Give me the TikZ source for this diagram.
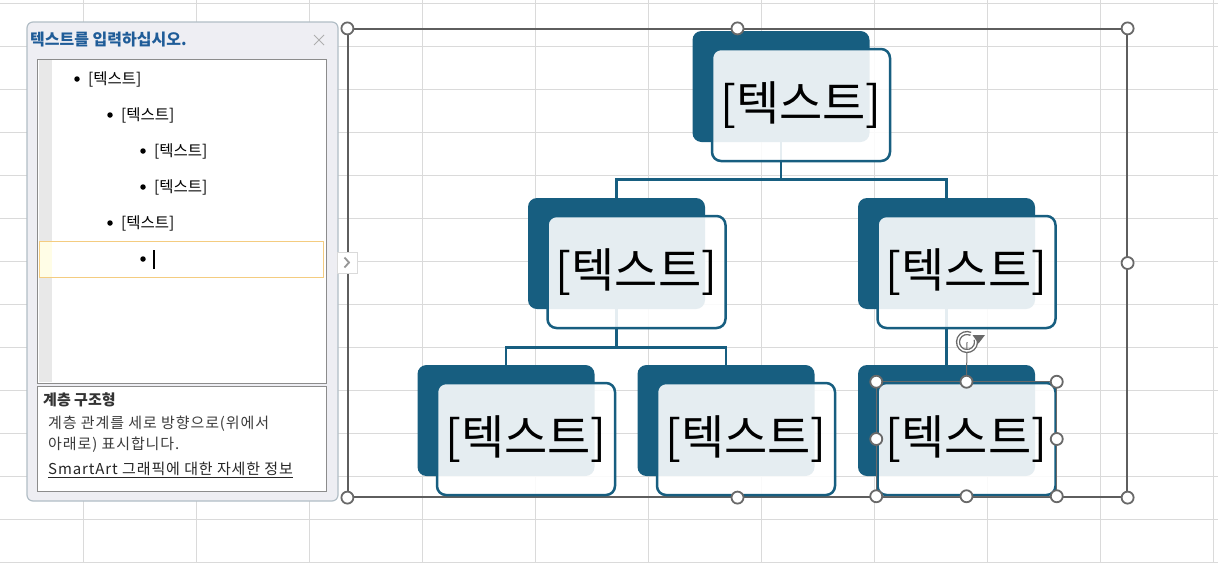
\documentclass[tikz,border=0pt]{standalone}
\usepackage{fontspec}
\setmainfont{Noto Sans CJK KR}
\usetikzlibrary{positioning}
\definecolor{smart}{RGB}{23,94,128}
\definecolor{gridgray}{RGB}{218,218,218}
\definecolor{panebg}{RGB}{238,238,243}
\definecolor{paneline}{RGB}{178,190,198}
\definecolor{boxgray}{RGB}{140,140,140}
\definecolor{stripgray}{RGB}{232,232,232}
\definecolor{rowline}{RGB}{244,204,128}
\definecolor{rowfill}{RGB}{255,253,230}
\definecolor{titleblue}{RGB}{31,92,152}
\definecolor{hdl}{RGB}{105,105,105}
\definecolor{txtgray}{RGB}{60,60,60}
\begin{document}
\begin{tikzpicture}[x=1pt,y=-1pt,
    grid/.style={draw=gridgray,line width=1pt},
    pane/.style={rectangle,rounded corners=6pt,fill=panebg,draw=paneline,line width=1.2pt,inner sep=0pt},
    listbox/.style={rectangle,fill=white,draw=boxgray,line width=1pt,inner sep=0pt},
    bul/.style={circle,fill=black,inner sep=0pt,minimum size=5.5pt},
    item/.style={inner sep=0pt,font=\fontsize{15.5}{17}\selectfont},
    desc/.style={anchor=west,inner sep=0pt,text=txtgray,font=\fontsize{15}{17}\selectfont\addfontfeatures{LetterSpace=6}},
    back/.style={rectangle,rounded corners=9pt,fill=smart,minimum width=177pt,minimum height=111pt,inner sep=0pt},
    front/.style={rectangle,rounded corners=9pt,draw=smart,line width=2.5pt,fill=white,fill opacity=0.89,text opacity=1,
        minimum width=178pt,minimum height=112pt,inner sep=0pt,font=\fontsize{47}{52}\selectfont},
    conn/.style={draw=smart,line width=2.8pt},
    frame/.style={rectangle,draw=hdl!90!black,line width=1.2pt,inner sep=0pt},
    handle/.style={circle,draw=hdl,fill=white,line width=1.8pt,minimum size=12pt,inner sep=0pt}]
\fill[white] (0,0) rectangle (1218,563);
\useasboundingbox (0,0) rectangle (1218,563);
\foreach \x in {83,196,...,1213} \draw[grid] (\x,0) -- (\x,563);
\foreach \y in {3,46,...,562} \draw[grid] (0,\y) -- (1218,\y);

\node[pane,minimum width=311pt,minimum height=479pt] (pane) at (182.5,261.5) {};
\node[anchor=west,inner sep=0pt,text=titleblue,font=\bfseries\fontsize{16}{18}\selectfont] (title) at (30,40) {텍스트를 입력하십시오.};
\draw[gridgray!80!black,line width=1pt] (314,35) -- (324,45) (314,45) -- (324,35);
\node[listbox,minimum width=289pt,minimum height=324pt] (list) at (181.5,221) {};
\fill[stripgray] (39,60) rectangle (52,382);
\draw[rowline,fill=white,line width=1pt] (39.5,241.5) rectangle (323,277);
\fill[rowfill] (40,242) rectangle (52,276.5);
\foreach \lv/\yy [count=\i] in {0/79,1/115,2/151,2/187,1/223,2/259}
    \node[bul] (b\i) at ({77+33*\lv},\yy) {};
\foreach \i in {1,...,5}
    \node[item,right=8pt of b\i] (t\i) {[텍스트]};
\draw[black,line width=1.2pt] (154,250) -- (154,269);
\node[listbox,minimum width=289pt,minimum height=105pt] (descbox) at (181.5,438.5) {};
\node[desc,text=black!80,font=\bfseries\fontsize{15}{17}\selectfont] (dtitle) at (43,400) {계층 구조형};
\node[desc] (d1) at (48,424) {계층 관계를 세로 방향으로(위에서};
\node[desc] (d2) at (48,445) {아래로) 표시합니다.};
\node[desc,text=black!85] (more) at (48,470) {\underline{SmartArt 그래픽에 대한 자세한 정보}};

\node[frame,minimum width=779pt,minimum height=468pt] (sel) at (737.5,263) {};

\foreach \n/\x/\y in {top/781/86.5,ml/616.5/253.5,mr/946.5/253.5,bl/506/420.5,bm/726/420.5,br/946.5/420.5}
    \node[back] (\n-b) at (\x,\y) {};
\draw[conn] (top-b.south) -- ++(0,37) coordinate (j1) -| (ml-b.north);
\draw[conn] (j1) -| (mr-b.north);
\draw[conn] (ml-b.south) -- ++(0,38) coordinate (j2) -| (bl-b.north);
\draw[conn] (j2) -| (bm-b.north);
\draw[conn] (mr-b.south) -- (br-b.north);
\foreach \n in {top,ml,mr,bl,bm,br}
    \node[front] (\n) at ([shift={(20,18.5)}]\n-b) {[텍스트]};

\draw[hdl,line width=1pt] (br.north west) rectangle (br.south east);
\coordinate (rot) at (967,342);
\draw[hdl,line width=1pt] (rot) -- (br.north);
\draw[hdl,line width=4.2pt] (rot) ++(-65:9) arc[start angle=-65,end angle=-375,radius=9];
\draw[white,line width=1.5pt] (rot) ++(-65:9) arc[start angle=-65,end angle=-375,radius=9];
\fill[hdl] (972.5,335) -- (985,335) -- (978.5,343.5) -- cycle;
\foreach \a [count=\i] in {north west,north,north east,west,east,south west,south,south east}
    \node[handle] (s\i) at (br.\a) {};
\foreach \a [count=\i] in {north west,north,north east,west,east,south west,south,south east}
    \node[handle] (f\i) at (sel.\a) {};

\node[rectangle,draw=gridgray,fill=white,line width=1pt,minimum width=20pt,minimum height=21pt,inner sep=0pt] (expand) at (347.5,262.5) {};
\draw[hdl!70,line width=1.8pt] (344.5,257.5) -- (349,262.5) -- (344.5,267.5);
\end{tikzpicture}
\end{document}
